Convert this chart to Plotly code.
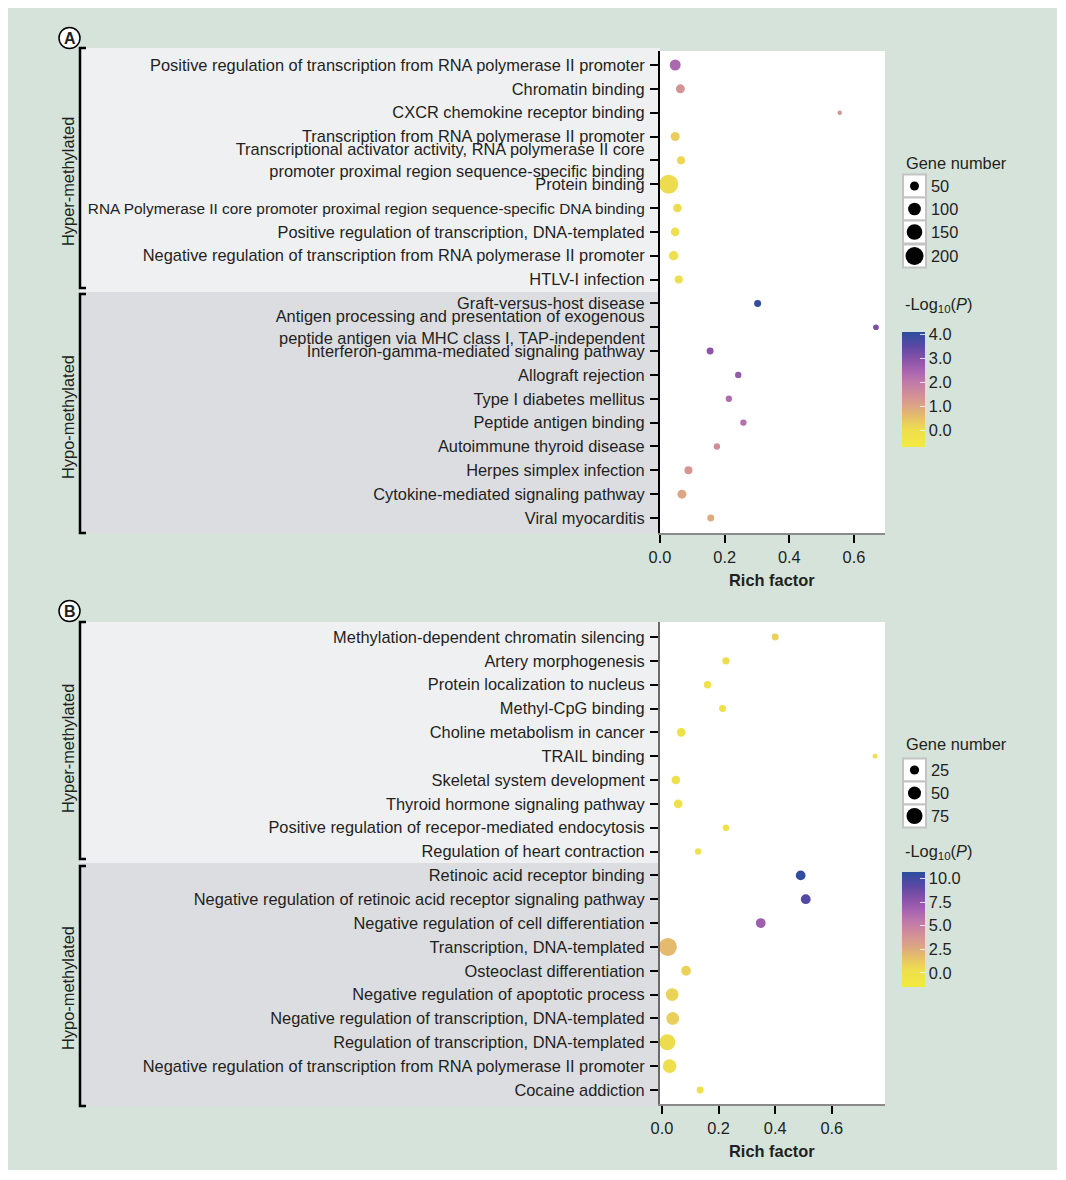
import plotly.graph_objects as go

# Page is 1066x1180; body margin is 8px, so the figure is placed at (8, 8)
PW, PH = 1066, 1180
OFF = 8
W, H = PW - 2 * OFF, 1162

# ---------------- Data ----------------
a_terms = [
    "Positive regulation of transcription from RNA polymerase II promoter",
    "Chromatin binding",
    "CXCR chemokine receptor binding",
    "Transcription from RNA polymerase II promoter",
    "Transcriptional activator activity, RNA polymerase II core<br>promoter proximal region sequence-specific binding",
    "Protein binding",
    "<span style='font-size:15.4px'>RNA Polymerase II core promoter proximal region sequence-specific DNA binding</span>",
    "Positive regulation of transcription, DNA-templated",
    "Negative regulation of transcription from RNA polymerase II promoter",
    "HTLV-I infection",
    "Graft-versus-host disease",
    "Antigen processing and presentation of exogenous<br>peptide antigen via MHC class I, TAP-independent",
    "Interferon-gamma-mediated signaling pathway",
    "Allograft rejection",
    "Type I diabetes mellitus",
    "Peptide antigen binding",
    "Autoimmune thyroid disease",
    "Herpes simplex infection",
    "Cytokine-mediated signaling pathway",
    "Viral myocarditis",
]
a_rich = [0.047, 0.063, 0.556, 0.047, 0.065, 0.027, 0.054, 0.047, 0.042, 0.058,
          0.302, 0.668, 0.155, 0.242, 0.213, 0.258, 0.176, 0.088, 0.068, 0.157]
a_genes = [75, 50, 12, 50, 40, 220, 45, 45, 55, 40,
           30, 20, 30, 25, 25, 25, 25, 40, 50, 30]
a_logp = [2.4, 1.4, 1.4, 0.3, 0.15, 0.05, 0.05, 0.0, 0.0, 0.0,
          4.0, 3.1, 2.9, 2.8, 2.3, 2.2, 1.5, 1.3, 1.0, 0.9]
a_size_legend = [50, 100, 150, 200]
a_cbar_ticks = [0.0, 1.0, 2.0, 3.0, 4.0]

b_terms = [
    "Methylation-dependent chromatin silencing",
    "Artery morphogenesis",
    "Protein localization to nucleus",
    "Methyl-CpG binding",
    "Choline metabolism in cancer",
    "TRAIL binding",
    "Skeletal system development",
    "Thyroid hormone signaling pathway",
    "Positive regulation of recepor-mediated endocytosis",
    "Regulation of heart contraction",
    "Retinoic acid receptor binding",
    "Negative regulation of retinoic acid receptor signaling pathway",
    "Negative regulation of cell differentiation",
    "Transcription, DNA-templated",
    "Osteoclast differentiation",
    "Negative regulation of apoptotic process",
    "Negative regulation of transcription, DNA-templated",
    "Regulation of transcription, DNA-templated",
    "Negative regulation of transcription from RNA polymerase II promoter",
    "Cocaine addiction",
]
b_rich = [0.400, 0.226, 0.161, 0.214, 0.068, 0.753, 0.049, 0.057, 0.226, 0.128,
          0.490, 0.508, 0.349, 0.021, 0.085, 0.036, 0.038, 0.019, 0.027, 0.135]
b_genes = [14, 16, 16, 14, 22, 7, 22, 22, 12, 12,
           28, 28, 28, 95, 28, 48, 48, 75, 55, 14]
b_logp = [0.8, 0.4, 0.0, 0.0, 0.0, 0.0, 0.0, 0.0, 0.0, 0.0,
          10.5, 9.5, 7.0, 1.9, 0.8, 0.8, 1.0, 0.4, 0.3, 0.0]
b_size_legend = [25, 50, 75]
b_cbar_ticks = [0.0, 2.5, 5.0, 7.5, 10.0]

group_names = ["Hyper-methylated", "Hypo-methylated"]
x_ticks = [0.0, 0.2, 0.4, 0.6]

# ---------------- Style ----------------
FONT = "Liberation Sans, Arial, Helvetica, sans-serif"
FS = 16.4
TXT = "#231f20"
GREEN = "#d5e3db"
LIGHT = "#eff0f2"
GRAY = "#dcdde0"
colorscale = [
    [0.0, "#f2ea40"], [0.146, "#eedf4c"], [0.25, "#e6c266"], [0.354, "#dca584"],
    [0.458, "#d28e98"], [0.5625, "#c07aaa"], [0.667, "#a663b0"], [0.77, "#8652a8"],
    [0.875, "#5c48a4"], [1.0, "#2a4e9e"],
]


def X(px):
    """page pixel -> paper fraction"""
    return (px - OFF) / W


def Y(py):
    return 1 - (py - OFF) / H


a_k = 18 / (200 ** 0.5)
b_k = 16 / (75 ** 0.5)

fig = go.Figure()
rows = list(range(20))


def cbar(top, ticks_):
    return dict(x=X(902), xanchor="left", y=Y(top), yanchor="top",
                len=115, lenmode="pixels", thickness=23,
                xpad=0, ypad=0, outlinewidth=0, tickformat=".1f", tickvals=ticks_,
                ticks="inside", ticklen=5, tickcolor="rgba(255,255,255,0.8)",
                tickfont=dict(family=FONT, size=FS, color=TXT))


fig.add_trace(go.Scatter(
    x=a_rich, y=rows, mode="markers", xaxis="x", yaxis="y", cliponaxis=False,
    marker=dict(size=[a_k * g ** 0.5 for g in a_genes], color=a_logp, opacity=1,
                colorscale=colorscale, cmin=-0.7, cmax=4.1, line=dict(width=0),
                showscale=True, colorbar=cbar(332, a_cbar_ticks)),
    showlegend=False, hoverinfo="x+y"))

fig.add_trace(go.Scatter(
    x=b_rich, y=rows, mode="markers", xaxis="x2", yaxis="y2", cliponaxis=False,
    marker=dict(size=[b_k * g ** 0.5 for g in b_genes], color=b_logp, opacity=1,
                colorscale=colorscale, cmin=-1.5, cmax=10.7, line=dict(width=0),
                showscale=True, colorbar=cbar(872, b_cbar_ticks)),
    showlegend=False, hoverinfo="x+y"))

# Size legends on an overlay axis measured in page pixels
a_leg_y = [186, 209, 232, 256]
b_leg_y = [770, 793, 816]
fig.add_trace(go.Scatter(
    x=[914.5] * len(a_size_legend), y=a_leg_y, mode="markers", xaxis="x3", yaxis="y3",
    marker=dict(size=[a_k * g ** 0.5 for g in a_size_legend], color="black", opacity=1,
                line=dict(width=0)),
    showlegend=False, hoverinfo="skip", cliponaxis=False))
fig.add_trace(go.Scatter(
    x=[914.5] * len(b_size_legend), y=b_leg_y, mode="markers", xaxis="x3", yaxis="y3",
    marker=dict(size=[b_k * g ** 0.5 for g in b_size_legend], color="black", opacity=1,
                line=dict(width=0)),
    showlegend=False, hoverinfo="skip", cliponaxis=False))

shapes = []
shapes.append(dict(type="rect", xref="paper", yref="paper", x0=X(8), x1=X(1057), y0=Y(4), y1=Y(1173),
                   fillcolor=GREEN, line=dict(width=0), layer="below"))
for (y0, y1, c) in [(48, 292, LIGHT), (292, 533, GRAY), (622, 863, LIGHT), (863, 1106, GRAY)]:
    shapes.append(dict(type="rect", xref="paper", yref="paper", x0=X(80), x1=X(660), y0=Y(y0), y1=Y(y1),
                       fillcolor=c, line=dict(width=0), layer="below"))
for (y0, y1) in [(51, 533), (622, 1104)]:
    shapes.append(dict(type="rect", xref="paper", yref="paper", x0=X(660), x1=X(885), y0=Y(y0), y1=Y(y1),
                       fillcolor="white", line=dict(width=0), layer="below"))
for (y0, y1) in [(48, 288), (294, 533), (622, 859), (866, 1106)]:
    shapes.append(dict(type="path", xref="paper", yref="paper",
                       path=f"M {X(86)} {Y(y0)} L {X(80)} {Y(y0)} L {X(80)} {Y(y1)} L {X(86)} {Y(y1)}",
                       line=dict(color="black", width=2.5), layer="above"))
for ys in [a_leg_y, b_leg_y]:
    for yy in ys:
        shapes.append(dict(type="rect", xref="paper", yref="paper", x0=X(903), x1=X(926),
                           y0=Y(yy - 11.5), y1=Y(yy + 11.5), fillcolor="white",
                           line=dict(color="#c4c4c4", width=2), layer="below"))
for cy in [38, 611]:
    shapes.append(dict(type="circle", xref="paper", yref="paper", x0=X(59), x1=X(80),
                       y0=Y(cy - 10.5), y1=Y(cy + 10.5),
                       fillcolor="white", line=dict(color="black", width=1.5), layer="above"))

ann = []


def txt(x, y, t, size=FS, xanchor="left", angle=0, bold=False):
    ann.append(dict(xref="paper", yref="paper", x=X(x), y=Y(y), text=f"<b>{t}</b>" if bold else t,
                    showarrow=False, xanchor=xanchor, yanchor="middle", textangle=angle,
                    font=dict(family=FONT, size=size, color=TXT)))


txt(69.5, 38.5, "A", size=16, xanchor="center", bold=True)
txt(69.5, 611.5, "B", size=16, xanchor="center", bold=True)
txt(68, 182, group_names[0], xanchor="center", angle=-90)
txt(68, 417, group_names[1], xanchor="center", angle=-90)
txt(68, 749, group_names[0], xanchor="center", angle=-90)
txt(68, 988, group_names[1], xanchor="center", angle=-90)
txt(904, 163, "Gene number")
txt(904, 744, "Gene number")
for v, yy in zip(a_size_legend, a_leg_y):
    txt(929, yy, str(v))
for v, yy in zip(b_size_legend, b_leg_y):
    txt(929, yy, str(v))
txt(903, 305, "-Log<sub>10</sub>(<i>P</i>)")
txt(903, 852, "-Log<sub>10</sub>(<i>P</i>)")
txt(772, 580, "Rich factor", size=FS, xanchor="center", bold=True)
txt(772, 1151, "Rich factor", size=FS, xanchor="center", bold=True)

tickfont = dict(family=FONT, size=FS, color=TXT)
common_x = dict(tickvals=x_ticks, tickformat=".1f", ticks="outside", ticklen=8, tickwidth=2,
                tickcolor="black", showline=True, linecolor="#8a8a8a", linewidth=2, automargin=False,
                showgrid=False, zeroline=False, tickfont=tickfont)
common_y = dict(tickvals=rows, ticks="outside", ticklen=8, tickwidth=2, tickcolor="black",
                ticklabelstandoff=2, automargin=False,
                showline=True, linewidth=2, showgrid=False, zeroline=False, tickfont=tickfont)

fig.update_layout(
    template="none",
    width=W, height=H, margin=dict(l=0, r=0, t=0, b=0, pad=0, autoexpand=False),
    paper_bgcolor="white", plot_bgcolor="rgba(0,0,0,0)",
    shapes=shapes, annotations=ann,
    xaxis=dict(domain=[X(660), X(885)], range=[0, 0.696], anchor="y", **common_x),
    yaxis=dict(domain=[Y(533), Y(51)], range=[19.63, -0.587], anchor="x",
               ticktext=a_terms, linecolor="black", **common_y),
    xaxis2=dict(domain=[X(660), X(885)], range=[-0.007, 0.788], anchor="y2", **common_x),
    yaxis2=dict(domain=[Y(1104), Y(622)], range=[19.59, -0.63], anchor="x2",
                ticktext=b_terms, linecolor="#6a6a6a", **common_y),
    xaxis3=dict(domain=[0, 1], range=[OFF, OFF + W], visible=False, anchor="y3",
                fixedrange=True, automargin=False),
    yaxis3=dict(domain=[0, 1], range=[OFF + H, OFF], visible=False, anchor="x3",
                fixedrange=True, automargin=False),
)

fig.write_html("out.html")
